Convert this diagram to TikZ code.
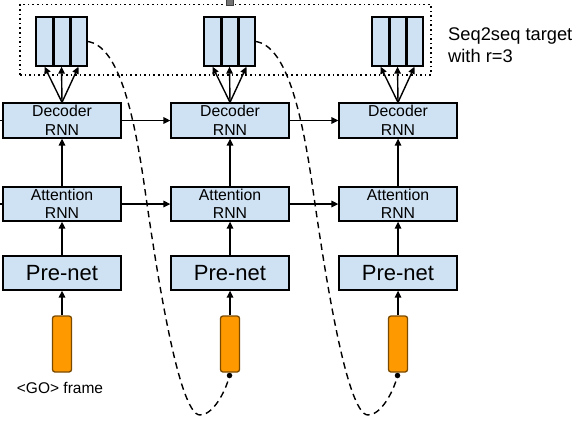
\documentclass[tikz,border=0pt]{standalone}
\usepackage{fontspec}
\setmainfont{Liberation Sans}
\usetikzlibrary{arrows.meta}
\definecolor{boxblue}{HTML}{CFE2F3}
\definecolor{orangefill}{HTML}{FF9900}
\definecolor{orangeedge}{HTML}{7A4A00}
\begin{document}
\begin{tikzpicture}[x=1pt,y=-1pt,
  rnnbox/.style={draw=black, line width=1.3pt, fill=boxblue, minimum width=118pt, minimum height=35pt, inner sep=0pt, align=center, font=\fontsize{15.8}{18.5}\selectfont},
  prebox/.style={rnnbox, minimum height=34pt, font=\fontsize{22}{24}\selectfont},
  cellbox/.style={draw=black, line width=1.3pt, fill=boxblue, minimum width=17pt, minimum height=49pt, inner sep=0pt},
  inbar/.style={draw=orangeedge, line width=1.3pt, fill=orangefill, rounded corners=2.5pt, minimum width=19pt, minimum height=56pt, inner sep=0pt},
  arr/.style={line width=1.4pt, -{Triangle[length=7pt,width=6.5pt]}},
  plainline/.style={line width=1.4pt},
  dashcurve/.style={line width=1.4pt, dash pattern=on 6.5pt off 4.5pt},
  dotnode/.style={circle, fill=black, inner sep=0pt, minimum size=5.5pt},
  dottedframe/.style={draw=black, line width=1.3pt, dash pattern=on 1.6pt off 3pt, inner sep=0pt}
]
\useasboundingbox (0,0) rectangle (588,426);

% dotted frame around targets
\node[dottedframe, minimum width=411pt, minimum height=70.5pt] (tgtframe) at (225.5,39.75) {};
\node[draw=black!75, fill=black!55, line width=0.8pt, minimum size=7pt, inner sep=0pt] (handle) at (229.5,1.5) {};

\foreach \i/\x in {1/62,2/230,3/398} {
  \node[rnnbox] (dec\i) at (\x,120.5) {Decoder\\RNN};
  \node[rnnbox, minimum height=34pt] (att\i) at (\x,204) {Attention\\RNN};
  \node[prebox] (pre\i) at (\x,273) {Pre-net};
  \node[inbar] (in\i) at (\x,344) {};
  \node[cellbox] (ta\i) at (\x-17.5,41.5) {};
  \node[cellbox] (tb\i) at (\x-0.5,41.5) {};
  \node[cellbox] (tc\i) at (\x+16.5,41.5) {};
  \draw[line width=2.4pt] (ta\i.north east) -- (ta\i.south east);
  \draw[line width=2.4pt] (tb\i.north east) -- (tb\i.south east);
  \draw[arr] (in\i.north) -- (pre\i.south);
  \draw[arr] (pre\i.north) -- (att\i.south);
  \draw[arr] (att\i.north) -- (dec\i.south);
  \draw[arr] (dec\i.north) -- (ta\i.south);
  \draw[arr] (dec\i.north) -- (tb\i.south);
  \draw[arr] (dec\i.north) -- (tc\i.south);
}

% horizontal recurrences
\coordinate (stubD) at (0,120.5);
\coordinate (stubA) at (0,204);
\draw[plainline] (stubD) -- (dec1.west);
\draw[plainline] (stubA) -- (att1.west);
\draw[arr] (dec1.east) -- (dec2.west);
\draw[arr] (dec2.east) -- (dec3.west);
\draw[arr] (att1.east) -- (att2.west);
\draw[arr] (att2.east) -- (att3.west);

% feedback dots and dashed curves
\node[dotnode] (dot2) at (229.5,375.5) {};
\node[dotnode] (dot3) at (397.5,375.5) {};
\draw[dashcurve] (tc1.east) .. controls (120,46) and (135,120) .. (145,190)
  .. controls (155,260) and (178,415) .. (200,415)
  .. controls (213,415) and (225,392) .. (dot2);
\draw[dashcurve] (tc2.east) .. controls (288,46) and (303,120) .. (313,190)
  .. controls (323,260) and (346,415) .. (368,415)
  .. controls (381,415) and (393,392) .. (dot3);

% labels
\node[anchor=base west, font=\fontsize{18.3}{21}\selectfont, inner sep=0pt] (lbl1) at (448,40) {Seq2seq target};
\node[anchor=base west, font=\fontsize{18.3}{21}\selectfont, inner sep=0pt] (lbl2) at (448,62) {with r=3};
\node[anchor=base, font=\fontsize{15.5}{18}\selectfont, inner sep=0pt] (golbl) at (60,393) {<GO> frame};
\end{tikzpicture}
\end{document}
